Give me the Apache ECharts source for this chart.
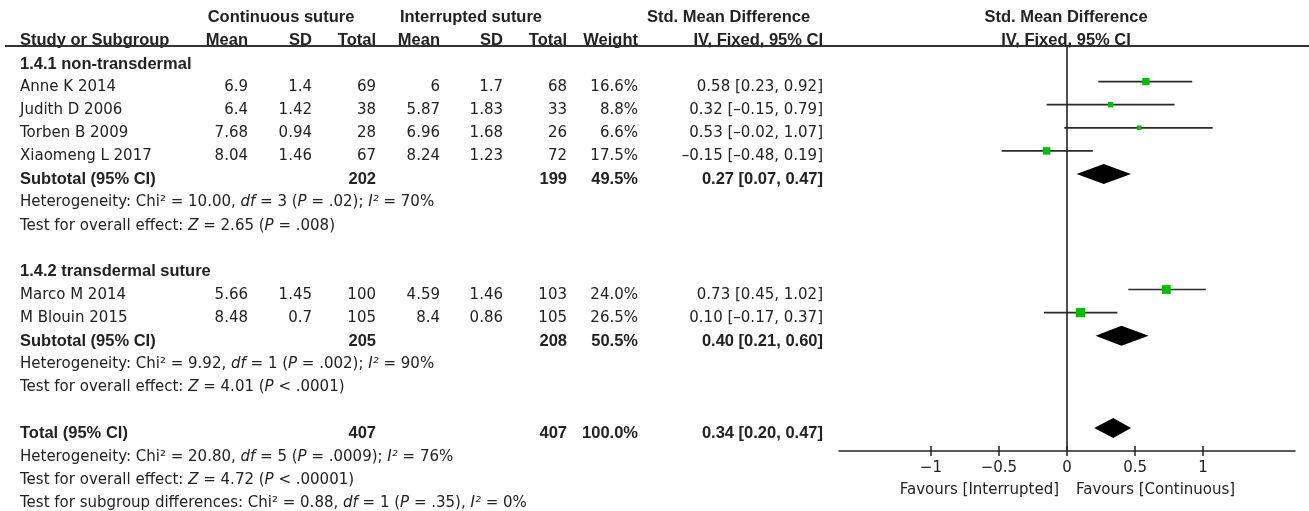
<!DOCTYPE html>
<html><head><meta charset="utf-8">
<script src="https://cdn.jsdelivr.net/npm/echarts@6/dist/echarts.min.js"></script>
<style>html,body{margin:0;padding:0;background:#fff}#c{width:1309px;height:511px}</style>
</head><body><div id="c"></div>
<script>
// ---------- data ----------
const studies   = ['Anne K 2014', 'Judith D 2006', 'Torben B 2009', 'Xiaomeng L 2017', 'Marco M 2014', 'M Blouin 2015'];
const contMean  = [6.9, 6.4, 7.68, 8.04, 5.66, 8.48];
const contSD    = [1.4, 1.42, 0.94, 1.46, 1.45, 0.7];
const contTotal = [69, 38, 28, 67, 100, 105];
const intMean   = [6, 5.87, 6.96, 8.24, 4.59, 8.4];
const intSD     = [1.7, 1.83, 1.68, 1.23, 1.46, 0.86];
const intTotal  = [68, 33, 26, 72, 103, 105];
const weights   = [16.6, 8.8, 6.6, 17.5, 24.0, 26.5];
const smd       = [0.58, 0.32, 0.53, -0.15, 0.73, 0.10];
const ciLow     = [0.23, -0.15, -0.02, -0.48, 0.45, -0.17];
const ciHigh    = [0.92, 0.79, 1.07, 0.19, 1.02, 0.37];
const studyRows = [3, 4, 5, 6, 12, 13];

const groupNames = ['1.4.1 non-transdermal', '1.4.2 transdermal suture'];
const groupRows  = [2, 11];

const pooledLabels    = ['Subtotal (95% CI)', 'Subtotal (95% CI)', 'Total (95% CI)'];
const pooledRows      = [7, 14, 18];
const pooledContTotal = [202, 205, 407];
const pooledIntTotal  = [199, 208, 407];
const pooledWeight    = [49.5, 50.5, 100.0];
const pooledSmd       = [0.27, 0.40, 0.34];
const pooledLow       = [0.07, 0.21, 0.20];
const pooledHigh      = [0.47, 0.60, 0.47];

const noteRows  = [8, 9, 15, 16, 19, 20, 21];
const noteTexts = [
  'Heterogeneity: Chi\u00b2 = 10.00, *df* = 3 (*P* = .02); *I\u00b2* = 70%',
  'Test for overall effect: *Z* = 2.65 (*P* = .008)',
  'Heterogeneity: Chi\u00b2 = 9.92, *df* = 1 (*P* = .002); *I\u00b2* = 90%',
  'Test for overall effect: *Z* = 4.01 (*P* < .0001)',
  'Heterogeneity: Chi\u00b2 = 20.80, *df* = 5 (*P* = .0009); *I\u00b2* = 76%',
  'Test for overall effect: *Z* = 4.72 (*P* < .00001)',
  'Test for subgroup differences: Chi\u00b2 = 0.88, *df* = 1 (*P* = .35), *I\u00b2* = 0%'
];

const xTicks = [-1, -0.5, 0, 0.5, 1];
const favoursLeft = 'Favours [Interrupted]';
const favoursRight = 'Favours [Continuous]';

// ---------- layout helpers ----------
const REG = 'DejaVu Sans';
const BOLD = 'Liberation Sans, Arial, sans-serif';
const INK = '#222';
const rowY = i => 17.8 + 23.1 * i;
const dash = s => s.replace(/-/g, '\u2013');
const f2 = v => dash(v.toFixed(2));
const ciText = (e, l, h) => f2(e) + ' [' + f2(l) + ', ' + f2(h) + ']';

const graphics = [];
function txt(x, row, text, align, bold) {
  graphics.push({
    type: 'text', x: x, y: rowY(row), silent: true,
    style: {
      text: String(text), fill: INK, align: align || 'left', verticalAlign: 'middle',
      fontFamily: bold ? BOLD : REG, fontSize: bold ? 16.5 : 15, fontWeight: bold ? 'bold' : 'normal'
    }
  });
}
function richTxt(x, row, str) {
  const parts = str.split('*');
  const t = parts.map((p, k) => p ? '{' + (k % 2 ? 'i' : 'n') + '|' + p + '}' : '').join('');
  graphics.push({
    type: 'text', x: x, y: rowY(row), silent: true,
    style: {
      text: t, fill: INK, align: 'left', verticalAlign: 'middle', fontFamily: REG, fontSize: 15,
      rich: {
        n: { fontFamily: REG, fontSize: 15, fill: INK, fontStyle: 'normal' },
        i: { fontFamily: REG, fontSize: 15, fill: INK, fontStyle: 'italic' }
      }
    }
  });
}

// column anchors (right edges)
const X = { name: 20, cm: 248, csd: 312, ct: 376, im: 440, isd: 503, it: 567, w: 638, ci: 823, plot: 1066 };

// headers
txt(281, 0, 'Continuous suture', 'center', true);
txt(471, 0, 'Interrupted suture', 'center', true);
txt(647, 0, 'Std. Mean Difference', 'left', true);
txt(X.plot, 0, 'Std. Mean Difference', 'center', true);
txt(X.name, 1, 'Study or Subgroup', 'left', true);
txt(X.cm, 1, 'Mean', 'right', true);
txt(X.csd, 1, 'SD', 'right', true);
txt(X.ct, 1, 'Total', 'right', true);
txt(X.im, 1, 'Mean', 'right', true);
txt(X.isd, 1, 'SD', 'right', true);
txt(X.it, 1, 'Total', 'right', true);
txt(X.w, 1, 'Weight', 'right', true);
txt(X.ci, 1, 'IV, Fixed, 95% CI', 'right', true);
txt(X.plot, 1, 'IV, Fixed, 95% CI', 'center', true);
graphics.push({ type: 'line', silent: true, shape: { x1: 5, y1: 46, x2: 1309, y2: 46 }, style: { stroke: '#333', lineWidth: 2 } });

groupNames.forEach((g, k) => txt(X.name, groupRows[k], g, 'left', true));
studies.forEach((s, k) => {
  const r = studyRows[k];
  txt(X.name, r, s, 'left');
  txt(X.cm, r, contMean[k], 'right');
  txt(X.csd, r, contSD[k], 'right');
  txt(X.ct, r, contTotal[k], 'right');
  txt(X.im, r, intMean[k], 'right');
  txt(X.isd, r, intSD[k], 'right');
  txt(X.it, r, intTotal[k], 'right');
  txt(X.w, r, weights[k].toFixed(1) + '%', 'right');
  txt(X.ci, r, ciText(smd[k], ciLow[k], ciHigh[k]), 'right');
});
pooledLabels.forEach((p, k) => {
  const r = pooledRows[k];
  txt(X.name, r, p, 'left', true);
  txt(X.ct, r, pooledContTotal[k], 'right', true);
  txt(X.it, r, pooledIntTotal[k], 'right', true);
  txt(X.w, r, pooledWeight[k].toFixed(1) + '%', 'right', true);
  txt(X.ci, r, ciText(pooledSmd[k], pooledLow[k], pooledHigh[k]), 'right', true);
});
noteTexts.forEach((n, k) => richTxt(X.name, noteRows[k], n));

graphics.push({ type: 'text', x: 1059, y: 490, silent: true, style: { text: favoursLeft, fill: INK, align: 'right', verticalAlign: 'middle', fontFamily: REG, fontSize: 15 } });
graphics.push({ type: 'text', x: 1076, y: 490, silent: true, style: { text: favoursRight, fill: INK, align: 'left', verticalAlign: 'middle', fontFamily: REG, fontSize: 15 } });

// ---------- chart ----------
const studyData = studies.map((s, k) => [ciLow[k], ciHigh[k], smd[k], studyRows[k], weights[k]]);
const pooledData = pooledRows.map((r, k) => [pooledLow[k], pooledHigh[k], pooledSmd[k], r]);
const axisMin = -1.675, axisMax = 1.675;
const lblFmt = v => (v < 0 ? '\u2212' + Math.abs(v) : String(v));

const chart = echarts.init(document.getElementById('c'), null, { renderer: 'canvas' });
chart.setOption({
  animation: false,
  backgroundColor: '#fff',
  grid: { left: 839, right: 14, top: 46, bottom: 60, containLabel: false },
  xAxis: [
    {
      type: 'value', min: axisMin, max: axisMax, position: 'bottom',
      axisLine: { show: true, lineStyle: { color: INK, width: 1.5 } },
      axisTick: { show: true, inside: true, length: 5, customValues: xTicks, lineStyle: { color: INK, width: 1.5 } },
      axisLabel: { show: false }, splitLine: { show: false }
    },
    {
      type: 'value', min: axisMin, max: axisMax, position: 'bottom',
      axisLine: { show: false },
      axisTick: { show: true, inside: false, length: 5, customValues: xTicks, lineStyle: { color: INK, width: 1.5 } },
      axisLabel: { show: true, customValues: xTicks, formatter: lblFmt, margin: 10, color: INK, fontFamily: REG, fontSize: 15 },
      splitLine: { show: false }
    }
  ],
  yAxis: { type: 'value', inverse: true, min: 1.4589, max: 18.991, show: false, splitLine: { show: false } },
  series: [
    {
      type: 'custom', xAxisIndex: 0, data: studyData, silent: true,
      renderItem(params, api) {
        const y = api.value(3);
        const lo = api.coord([api.value(0), y]);
        const hi = api.coord([api.value(1), y]);
        const c = api.coord([api.value(2), y]);
        const s = 1.8 * Math.sqrt(api.value(4));
        return {
          type: 'group', children: [
            { type: 'line', shape: { x1: lo[0], y1: lo[1], x2: hi[0], y2: hi[1] }, style: { stroke: '#2a2a2a', lineWidth: 1.7 } },
            { type: 'rect', shape: { x: c[0] - s / 2, y: c[1] - s / 2, width: s, height: s }, style: { fill: '#00bf00' } }
          ]
        };
      },
      markLine: {
        silent: true, symbol: ['none', 'none'], label: { show: false },
        lineStyle: { color: INK, width: 1.6, type: 'solid' },
        data: [{ xAxis: 0 }]
      }
    },
    {
      type: 'custom', xAxisIndex: 0, data: pooledData, silent: true,
      renderItem(params, api) {
        const y = api.value(3);
        const lo = api.coord([api.value(0), y]);
        const hi = api.coord([api.value(1), y]);
        const c = api.coord([api.value(2), y]);
        const h = 10;
        return {
          type: 'polygon',
          shape: { points: [[lo[0], lo[1]], [c[0], c[1] - h], [hi[0], hi[1]], [c[0], c[1] + h]] },
          style: { fill: '#000' }
        };
      }
    }
  ],
  graphic: graphics
});
</script></body></html>
